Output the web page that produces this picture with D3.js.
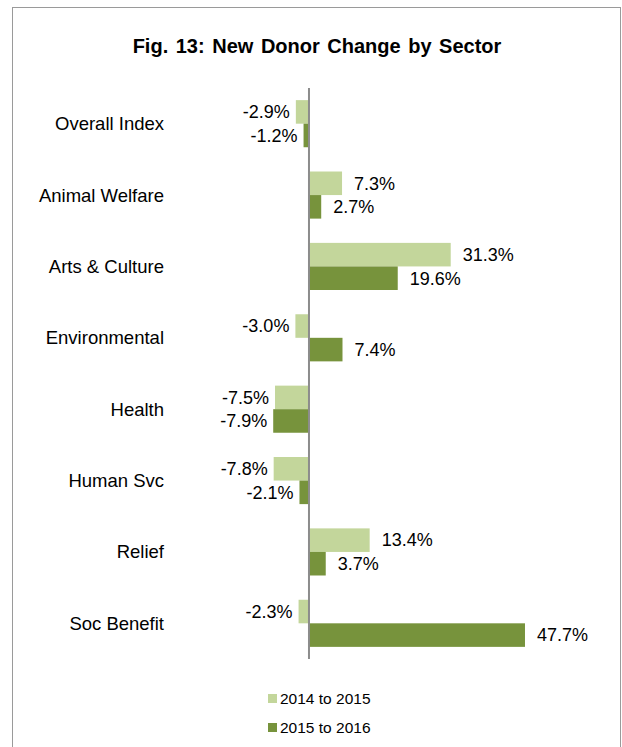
<!DOCTYPE html>
<html>
<head>
<meta charset="utf-8">
<script src="https://cdn.jsdelivr.net/npm/d3@7/dist/d3.min.js"></script>
<style>
  html, body { margin: 0; padding: 0; background: #fff; }
  svg { display: block; font-family: "Liberation Sans", Arial, sans-serif; }
</style>
</head>
<body>
<svg id="chart" width="622" height="747"></svg>
<script>
// Sectors, top to bottom
const categories = ["Overall Index", "Animal Welfare", "Arts & Culture", "Environmental",
                    "Health", "Human Svc", "Relief", "Soc Benefit"];
// Percent change in new donors
const series2014to2015 = [-2.9, 7.3, 31.3, -3.0, -7.5, -7.8, 13.4, -2.3];
const series2015to2016 = [-1.2, 2.7, 19.6, 7.4, -7.9, -2.1, 3.7, 47.7];
const seriesNames = ["2014 to 2015", "2015 to 2016"];
const seriesColors = ["#c3d69b", "#77933c"];
const titleText = "Fig. 13: New Donor Change by Sector";

const svg = d3.select("#chart");

// Outer frame
svg.append("rect")
  .attr("x", 12.5).attr("y", 7.5)
  .attr("width", 608).attr("height", 760)
  .attr("fill", "none").attr("stroke", "#9a9a9a").attr("stroke-width", 1);

// Title
svg.append("text")
  .attr("x", 317).attr("y", 53)
  .attr("text-anchor", "middle")
  .attr("font-size", 20).attr("font-weight", "bold")
  .attr("word-spacing", 2)
  .attr("fill", "#000")
  .text(titleText);

const x = d3.scaleLinear().domain([-10, 50]).range([263.7, 535.4]);
const y = d3.scaleBand().domain(categories).range([88, 659]).paddingInner(0.34).paddingOuter(0.17);
const ySub = d3.scaleBand().domain([0, 1]).range([0, y.bandwidth()]);

const rows = categories.map((c, i) => ({
  category: c,
  values: [series2014to2015[i], series2015to2016[i]]
}));

const groups = svg.append("g").selectAll("g")
  .data(rows).join("g")
  .attr("transform", d => `translate(0,${y(d.category)})`);

const bars = groups.selectAll("g.bar")
  .data(d => d.values.map((v, k) => ({ v, k })))
  .join("g").attr("class", "bar");

bars.append("rect")
  .attr("x", d => x(Math.min(0, d.v)))
  .attr("width", d => Math.abs(x(d.v) - x(0)))
  .attr("y", d => ySub(d.k))
  .attr("height", ySub.bandwidth())
  .attr("fill", d => seriesColors[d.k]);

bars.append("text")
  .attr("x", d => d.v >= 0 ? x(d.v) + 12 : x(d.v) - 6)
  .attr("y", d => ySub(d.k) + ySub.bandwidth() / 2)
  .attr("dy", "0.35em")
  .attr("text-anchor", d => d.v >= 0 ? "start" : "end")
  .attr("font-size", 18)
  .attr("fill", "#000")
  .text(d => d.v.toFixed(1) + "%");

// Category labels
svg.append("g").selectAll("text")
  .data(categories).join("text")
  .attr("x", 164)
  .attr("y", d => y(d) + y.bandwidth() / 2)
  .attr("dy", "0.35em")
  .attr("text-anchor", "end")
  .attr("font-size", 18.5)
  .attr("fill", "#000")
  .text(d => d);

// Zero axis line
svg.append("line")
  .attr("x1", x(0)).attr("x2", x(0))
  .attr("y1", y.range()[0]).attr("y2", y.range()[1])
  .attr("stroke", "#8c8c8c").attr("stroke-width", 2);

// Legend
const legend = svg.append("g").selectAll("g")
  .data(seriesNames).join("g")
  .attr("transform", (d, i) => `translate(268,${694 + i * 29})`);
legend.append("rect")
  .attr("width", 9).attr("height", 9)
  .attr("fill", (d, i) => seriesColors[i]);
legend.append("text")
  .attr("x", 12).attr("y", 4.5).attr("dy", "0.35em")
  .attr("font-size", 15.5)
  .attr("fill", "#000")
  .text(d => d);
</script>
</body>
</html>
